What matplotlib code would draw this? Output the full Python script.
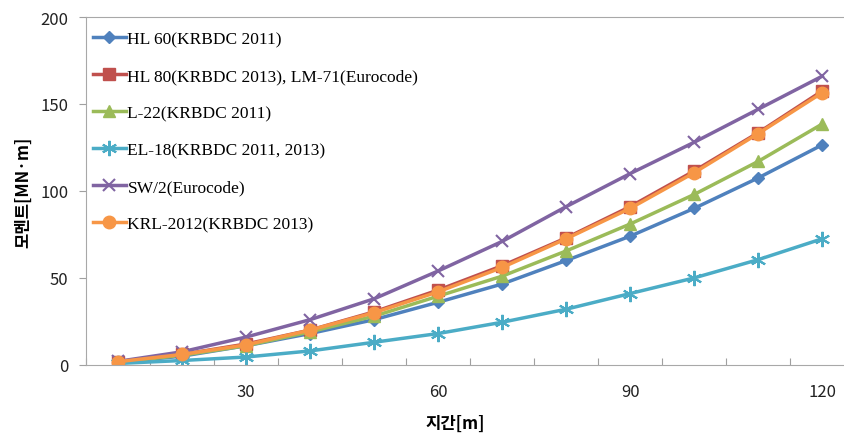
import matplotlib
matplotlib.use('Agg')
import matplotlib.pyplot as plt

# 지간 (span) categories
spans = [10, 20, 30, 40, 50, 60, 70, 80, 90, 100, 110, 120]

# moment values [MN·m]
hl60 = [1.5, 5, 11, 18, 26, 36, 46.5, 60, 74, 90, 107.5, 126.5]
hl80 = [1.8, 6, 12, 20, 30.5, 43, 57, 73, 91, 111.5, 133.5, 157.5]
l22 = [1.5, 5.5, 11, 19, 28, 39.5, 51, 65.5, 81, 98, 117, 138.5]
el18 = [0.8, 2.5, 4.5, 8, 13, 18, 24.5, 32, 41, 50, 60.5, 72.5]
sw2 = [2, 7.5, 16, 26, 38, 54, 71, 91, 110, 128, 147, 166]
krl = [1.8, 6, 11.5, 20, 30, 42, 56, 72.5, 90, 110.5, 133, 156.5]

names = ['HL 60(KRBDC 2011)', 'HL 80(KRBDC 2013), LM-71(Eurocode)',
         'L-22(KRBDC 2011)', 'EL-18(KRBDC 2011, 2013)', 'SW/2(Eurocode)',
         'KRL-2012(KRBDC 2013)']

fig = plt.figure(figsize=(8.45, 4.35), dpi=100)
ax = fig.add_axes([0.102, 0.159, 0.909, 0.7996])

x = list(range(1, len(spans) + 1))
ax.plot(x, hl60, color='#4F81BD', lw=2.5, marker='D', ms=6.5, label=names[0])
ax.plot(x, hl80, color='#C0504D', lw=2.5, marker='s', ms=8, label=names[1])
ax.plot(x, l22, color='#9BBB59', lw=2.5, marker='^', ms=9, label=names[2])
ax.plot(x, el18, color='#4BACC6', lw=2.5, marker=(6, 2, 0), ms=11, mew=1.5, label=names[3])
ax.plot(x, sw2, color='#8064A2', lw=2.5, marker='x', ms=9, mew=1.5, label=names[4])
ax.plot(x, krl, color='#F79646', lw=2.5, marker='o', ms=9, label=names[5])

ax.set_xlim(0.5, len(spans) + 0.5)
ax.set_ylim(0, 200)
ax.set_yticks([0, 50, 100, 150, 200])

# ticks at category boundaries, labels every third category
ax.set_xticks([i + 0.5 for i in range(len(spans) + 1)])
ax.set_xticklabels([])
ax.set_xticks([x[i] for i in range(2, len(spans), 3)], minor=True)
ax.set_xticklabels([str(spans[i]) for i in range(2, len(spans), 3)], minor=True)
ax.tick_params(axis='x', which='major', direction='in', length=5, color='#A0A0A0')
ax.tick_params(axis='x', which='minor', length=0, pad=13)
ax.tick_params(axis='y', direction='out', length=5, color='#A0A0A0', pad=8)
for lab in ax.get_xticklabels(minor=True) + ax.get_yticklabels():
    lab.set_fontfamily('Noto Sans CJK KR')
    lab.set_fontsize(12)
    lab.set_color('#222222')

for sp in ax.spines.values():
    sp.set_color('#A8A8A8')

ax.set_xlabel('지간[m]', fontfamily='Noto Sans CJK KR', fontweight='bold', fontsize=12)
ax.set_ylabel('모멘트[MN·m]', fontfamily='Noto Sans CJK KR', fontweight='bold', fontsize=12)
ax.xaxis.set_label_coords(0.48, -0.14)
ax.yaxis.set_label_coords(-0.07, 0.5)

leg = ax.legend(loc='upper left', bbox_to_anchor=(-0.005, 0.99), frameon=False,
                prop={'family': 'Liberation Serif', 'size': 12.5},
                handlelength=1.9, handletextpad=0.1, labelspacing=1.2, borderaxespad=0.2)

fig.savefig('out.png', dpi=100)
